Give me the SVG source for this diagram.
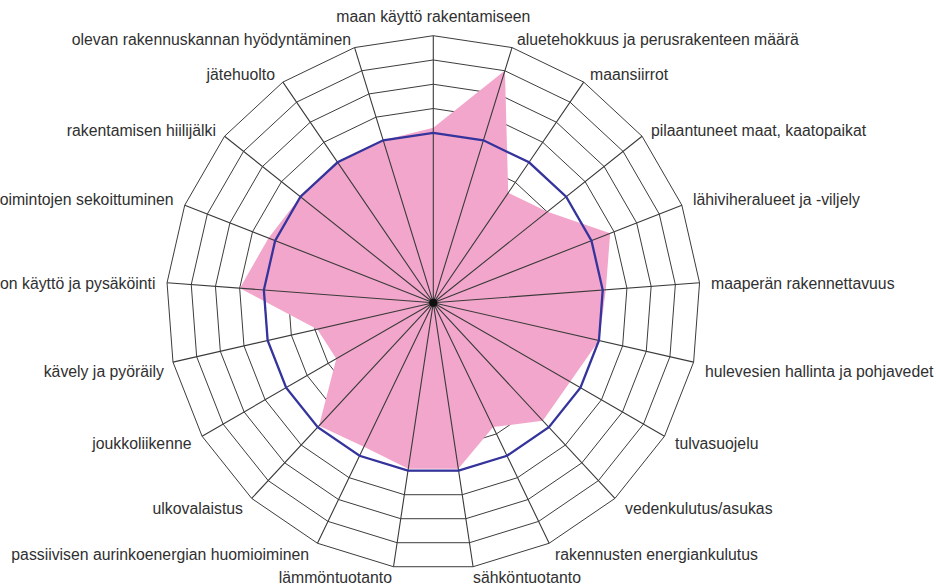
<svg xmlns="http://www.w3.org/2000/svg" xmlns:xlink="http://www.w3.org/1999/xlink" width="936" height="587" viewBox="0 0 936 587">
<style>
.lbl{font-family:"Liberation Sans",Arial,sans-serif;font-size:15.8px;fill:#303030}
.end{text-anchor:end}
.mid{text-anchor:middle}
.ring{fill:none;stroke:#3c3c3c;stroke-width:1}
.blue{fill:none;stroke:#34349c;stroke-width:2.3}
.spoke{fill:none;stroke:#3a3a3a;stroke-width:1.1}
.area{fill:#F3A6CB;stroke:none}
</style>
<defs>
<polygon id="ring" vector-effect="non-scaling-stroke" points="0,-267 78.70,-255.14 150.41,-220.61 208.75,-166.47 248.54,-97.55 266.25,-19.95 260.31,59.41 231.23,133.5 181.61,195.72 115.85,240.56 39.79,264.02 -39.79,264.02 -115.85,240.56 -181.61,195.72 -231.23,133.5 -260.31,59.41 -266.25,-19.95 -248.54,-97.55 -208.75,-166.47 -150.41,-220.61 -78.70,-255.14"/>
</defs>
<rect width="936" height="587" fill="#ffffff"/>
<g id="chart" transform="translate(433.3 302.7)">
<g id="grid">
<use href="#ring" xlink:href="#ring" class="ring" transform="scale(0.090909)"/>
<use href="#ring" xlink:href="#ring" class="ring" transform="scale(0.181818)"/>
<use href="#ring" xlink:href="#ring" class="ring" transform="scale(0.272727)"/>
<use href="#ring" xlink:href="#ring" class="ring" transform="scale(0.363636)"/>
<use href="#ring" xlink:href="#ring" class="ring" transform="scale(0.454545)"/>
<use href="#ring" xlink:href="#ring" class="ring" transform="scale(0.545455)"/>
<use href="#ring" xlink:href="#ring" class="ring" transform="scale(0.636364)"/>
<use href="#ring" xlink:href="#ring" class="ring" transform="scale(0.727273)"/>
<use href="#ring" xlink:href="#ring" class="ring" transform="scale(0.818182)"/>
<use href="#ring" xlink:href="#ring" class="ring" transform="scale(0.909091)"/>
<use href="#ring" xlink:href="#ring" class="ring"/>
</g>
<g id="series-area">
<polygon class="area" points="0,-175 71.63,-232.20 74.92,-109.89 114.15,-91.03 176.87,-69.41 172.52,-12.93 165.74,37.83 136.83,79 109.51,118.02 59.88,124.33 25.04,166.12 -25.04,166.12 -69.42,144.16 -114.27,123.15 -96.99,56 -116.02,26.48 -193.46,-14.50 -164.76,-64.67 -132.91,-105.99 -95.76,-140.46 -50.11,-162.45"/>
</g>
<g id="axes">
<path class="spoke" d="M0 0L0 -267M0 0L78.70 -255.14M0 0L150.41 -220.61M0 0L208.75 -166.47M0 0L248.54 -97.55M0 0L266.25 -19.95M0 0L260.31 59.41M0 0L231.23 133.5M0 0L181.61 195.72M0 0L115.85 240.56M0 0L39.79 264.02M0 0L-39.79 264.02M0 0L-115.85 240.56M0 0L-181.61 195.72M0 0L-231.23 133.5M0 0L-260.31 59.41M0 0L-266.25 -19.95M0 0L-248.54 -97.55M0 0L-208.75 -166.47M0 0L-150.41 -220.61M0 0L-78.70 -255.14"/>
</g>
<g id="series-reference">
<use href="#ring" xlink:href="#ring" class="blue" transform="scale(0.636364)"/>
</g>
<circle id="center" r="4" fill="#111"/>
</g>
<g id="labels">
<g id="l0"><text class="lbl mid" x="433.3" y="21.5">maan käyttö rakentamiseen</text></g>
<g id="l1"><text class="lbl" x="517" y="45">aluetehokkuus ja perusrakenteen määrä</text></g>
<g id="l2"><text class="lbl" x="590" y="80">maansiirrot</text></g>
<g id="l3"><text class="lbl" x="651" y="136">pilaantuneet maat, kaatopaikat</text></g>
<g id="l4"><text class="lbl" x="693" y="205">lähiviheralueet ja -viljely</text></g>
<g id="l5"><text class="lbl" x="711" y="289">maaperän rakennettavuus</text></g>
<g id="l6"><text class="lbl" x="705" y="377">hulevesien hallinta ja pohjavedet</text></g>
<g id="l7"><text class="lbl" x="675" y="448.5">tulvasuojelu</text></g>
<g id="l8"><text class="lbl" x="625" y="513.5">vedenkulutus/asukas</text></g>
<g id="l9"><text class="lbl" x="555" y="560">rakennusten energiankulutus</text></g>
<g id="l10"><text class="lbl" x="473" y="583">sähköntuotanto</text></g>
<g id="l11"><text class="lbl end" x="392" y="583">lämmöntuotanto</text></g>
<g id="l12"><text class="lbl end" x="309" y="560">passiivisen aurinkoenergian huomioiminen</text></g>
<g id="l13"><text class="lbl end" x="243" y="513.5">ulkovalaistus</text></g>
<g id="l14"><text class="lbl end" x="191.5" y="448.5">joukkoliikenne</text></g>
<g id="l15"><text class="lbl end" x="164" y="377">kävely ja pyöräily</text></g>
<g id="l16"><text class="lbl end" x="155.5" y="289">on käyttö ja pysäköinti</text></g>
<g id="l17"><text class="lbl end" x="173.5" y="205">oimintojen sekoittuminen</text></g>
<g id="l18"><text class="lbl end" x="216" y="136">rakentamisen hiilijälki</text></g>
<g id="l19"><text class="lbl end" x="275" y="79.5">jätehuolto</text></g>
<g id="l20"><text class="lbl end" x="351" y="45">olevan rakennuskannan hyödyntäminen</text></g>
</g>
</svg>
